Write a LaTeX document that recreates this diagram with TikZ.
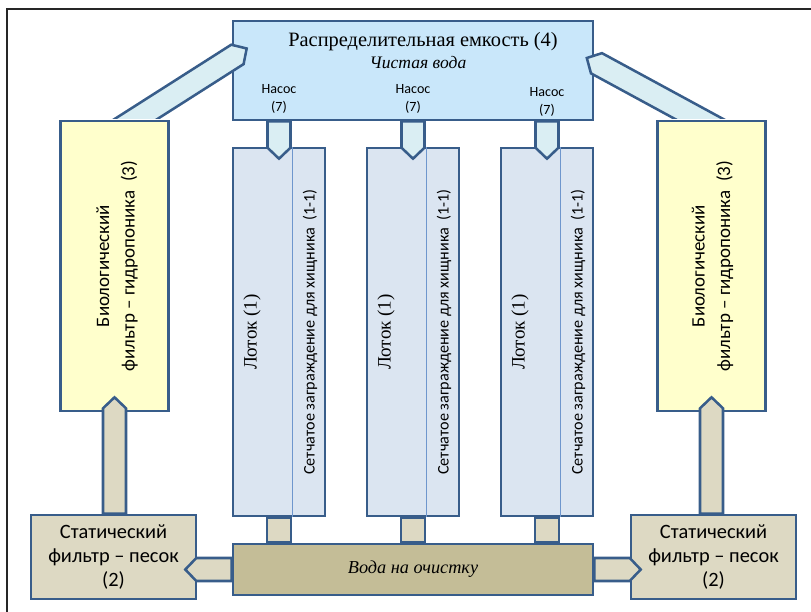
\documentclass[tikz,border=0pt]{standalone}
\usepackage{fontspec}
\setmainfont{Liberation Serif}
\setsansfont{Carlito}
\usepackage{tikz}
\usetikzlibrary{calc,positioning}
\definecolor{edgeblue}{RGB}{56,93,138}
\definecolor{tankfill}{RGB}{201,231,250}
\definecolor{pipefill}{RGB}{218,238,243}
\definecolor{troughfill}{RGB}{219,229,241}
\definecolor{netline}{RGB}{110,150,205}
\definecolor{biofill}{RGB}{255,255,204}
\definecolor{sandfill}{RGB}{221,217,195}
\definecolor{drainfill}{RGB}{196,189,151}

\newcommand{\blockarrow}[3][]{%
  \coordinate (ba-s) at (#2);
  \coordinate (ba-t) at (#3);
  \coordinate (ba-h) at ($(ba-t)!0.275cm!(ba-s)$);
  \draw[#1] ($(ba-s)!0.2875cm!90:(ba-t)$) -- ($(ba-h)!0.2875cm!90:(ba-t)$) -- (ba-t)
    -- ($(ba-h)!0.2875cm!-90:(ba-t)$) -- ($(ba-s)!0.2875cm!-90:(ba-t)$) -- cycle;
}

\begin{document}
\begin{tikzpicture}[x=0.025cm,y=-0.025cm,
  box/.style={draw=edgeblue,line width=1.8pt,inner sep=0pt},
  tankbox/.style={box,fill=tankfill,minimum width=9cm,minimum height=2.475cm},
  troughbox/.style={box,fill=troughfill,minimum width=2.3cm,minimum height=9.2cm},
  biobox/.style={box,fill=biofill,minimum width=2.7cm,minimum height=7.25cm},
  filterbox/.style={box,fill=sandfill,minimum width=4.125cm,minimum height=2.1cm,
    align=center,font=\sffamily\fontsize{14.5}{17}\selectfont},
  drainbox/.style={box,fill=drainfill,minimum width=9cm,minimum height=1.275cm,
    font=\itshape\fontsize{13}{15}\selectfont},
  pumparrow/.style={draw=edgeblue,line width=1.8pt,fill=pipefill},
  sandarrow/.style={draw=edgeblue,line width=1.8pt,fill=sandfill},
  pumplabel/.style={align=center,inner sep=0pt,font=\sffamily\fontsize{10}{12.5}\selectfont},
  traylabel/.style={rotate=90,inner sep=0pt,font=\fontsize{13.5}{16}\selectfont},
  netlabel/.style={rotate=90,inner sep=0pt,font=\sffamily\fontsize{11.5}{13}\selectfont},
  biolabel/.style={rotate=90,align=center,inner sep=0pt,font=\sffamily\fontsize{13.5}{18}\selectfont}]
  \useasboundingbox (0,0) rectangle (811,612);
  \draw[black!85,line width=1.5pt] (7,612) -- (7,9) -- (811,9);

  \node[tankbox] (tank) at (413,70.5) {};
  \node[inner sep=0pt,font=\fontsize{14.5}{17}\selectfont] (tanktitle) at (423,42) {Распределительная емкость (4)};
  \node[inner sep=0pt,font=\itshape\fontsize{12.5}{14}\selectfont] (tanksub) at (418,63) {Чистая вода};

  \foreach \name/\cx/\py in {A/279/99,B/413/99,C/547/102}{
    \node[troughbox] (trough\name) at (\cx,332) {};
    \draw[netline,line width=0.6pt] ($(trough\name.north)+(13,0)$) -- ($(trough\name.south)+(13,0)$);
    \node[traylabel] (tray\name) at ($(trough\name.center)+(-27,0)$) {Лоток (1)};
    \node[netlabel] (net\name) at ($(trough\name.center)+(31,0)$) {Сетчатое заграждение для хищника\ \ (1-1)};
    \node[pumplabel] (pump\name) at (\cx,\py) {Насос\\(7)};
  }

  \node[drainbox] (voda) at (413,569.5) {Вода на очистку};
  \node[filterbox] (filterL) at (113.5,557) {Статический\\фильтр – песок\\(2)};
  \node[filterbox] (filterR) at (713.5,557) {Статический\\фильтр – песок\\(2)};
  \node[biobox] (bioL) at (114.5,266) {};
  \node[biobox] (bioR) at (711.5,266) {};
  \node[biolabel] (bioLtext) at ($(bioL.center)+(2.5,0)$) {Биологический\\фильтр – гидропоника\ \ (3)};
  \node[biolabel] (bioRtext) at ($(bioR.center)+(1,0)$) {Биологический\\фильтр – гидропоника\ \ (3)};

  \begin{scope}
    \clip (0,0) rectangle ($(bioR.north)+(100,-1.5)$);
    \blockarrow[pumparrow]{$(bioL.north)+(0,13)$}{$(tank.west)+(15,-22)$}
    \blockarrow[pumparrow]{$(bioR.north)+(11,12)$}{$(tank.east)+(-7.5,-12.5)$}
  \end{scope}

  \foreach \name in {A,B,C}{
    \blockarrow[pumparrow]{trough\name.north |- tank.south}{$(trough\name.north)+(0,12)$}
    \draw[sandarrow] ($(trough\name.south)+(-12,0)$) rectangle ($(trough\name.south |- voda.north)+(12,0)$);
  }

  \blockarrow[sandarrow]{bioL.south |- filterL.north}{$(bioL.south)+(0,-15)$}
  \blockarrow[sandarrow]{bioR.south |- filterR.north}{$(bioR.south)+(0,-15)$}
  \blockarrow[sandarrow]{voda.west}{$(filterL.east |- voda.west)+(-12,0)$}
  \blockarrow[sandarrow]{voda.east}{$(filterR.west |- voda.east)+(11,0)$}
\end{tikzpicture}
\end{document}
